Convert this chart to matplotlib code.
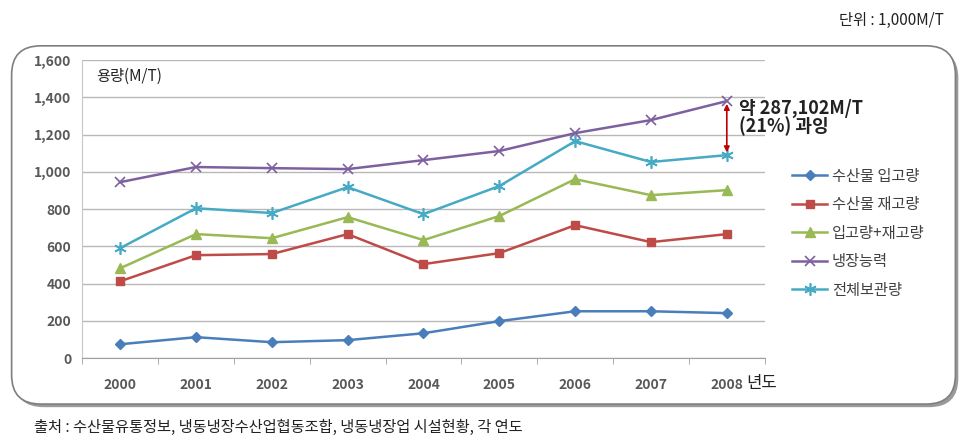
import matplotlib.pyplot as plt
from matplotlib.patches import FancyBboxPatch

plt.rcParams['font.family'] = ['Noto Sans CJK KR', 'DejaVu Sans']

years = ['2000', '2001', '2002', '2003', '2004', '2005', '2006', '2007', '2008']
intake = [75, 113, 86, 97, 134, 199, 252, 252, 242]
stock = [413, 553, 559, 666, 505, 564, 714, 623, 666]
intake_stock = [483, 666, 644, 757, 634, 763, 961, 875, 902]
capacity = [945, 1026, 1020, 1015, 1063, 1112, 1208, 1278, 1380]
storage = [591, 805, 779, 918, 773, 924, 1165, 1053, 1090]

series = [
    ('수산물 입고량', intake, '#4a7ebb', 'D', 5.5),
    ('수산물 재고량', stock, '#be4b48', 's', 5.5),
    ('입고량+재고량', intake_stock, '#98b954', '^', 6.5),
    ('냉장능력', capacity, '#7d60a0', 'x', 7),
    ('전체보관량', storage, '#46aac5', (6, 2, 0), 9),
]

fig = plt.figure(figsize=(9.68, 4.45), dpi=100)

# rounded frame with shadow
shadow = FancyBboxPatch((0.015, 0.085), 0.975, 0.805, boxstyle='round,pad=0,rounding_size=0.03',
                        transform=fig.transFigure, facecolor='#9a9a9a', edgecolor='none', zorder=0,
                        mutation_aspect=968 / 445)
frame = FancyBboxPatch((0.012, 0.092), 0.975, 0.805, boxstyle='round,pad=0,rounding_size=0.03',
                       transform=fig.transFigure, facecolor='white', edgecolor='#7f7f7f', lw=1.2, zorder=1,
                       mutation_aspect=968 / 445)
fig.patches.extend([shadow, frame])

ax = fig.add_axes([0.085, 0.195, 0.705, 0.67])
ax.set_zorder(2)
ax.patch.set_alpha(0)
x = list(range(len(years)))
for name, vals, color, marker, ms in series:
    ax.plot(x, vals, color=color, lw=1.8, marker=marker, ms=ms, mew=1.2 if marker in ('x', (6, 2, 0)) else 1,
            label=name)

ax.set_xlim(-0.5, 8.5)
ax.set_ylim(0, 1600)
ax.set_yticks(range(0, 1601, 200))
ax.set_yticklabels(['{:,}'.format(v) for v in range(0, 1601, 200)])
ax.set_xticks(x)
ax.set_xticklabels(years)
ax.set_xticks([i - 0.5 for i in range(10)], minor=True)
ax.tick_params(axis='x', which='major', length=0, pad=14)
ax.tick_params(axis='x', which='minor', length=4, color='#a0a0a0')
ax.tick_params(axis='y', length=0, pad=8)
for lab in ax.get_xticklabels() + ax.get_yticklabels():
    lab.set_color('#595959')
    lab.set_fontsize(10)
    lab.set_fontweight('bold')
ax.grid(axis='y', color='#b8b8b8', lw=1)
ax.set_axisbelow(True)
for s in ['top', 'right']:
    ax.spines[s].set_visible(False)
ax.spines['left'].set_color('#c8c8c8')
ax.spines['bottom'].set_color('#a0a0a0')

ax.text(0.02, 0.975, '용량(M/T)', transform=ax.transAxes, fontsize=11, va='top', color='#222222')
ax.annotate('년도', xy=(8.25, 0), xycoords=('data', 'axes fraction'), xytext=(0, -18),
            textcoords='offset points', fontsize=12, va='center', color='#222222')

# gap between capacity and storage in 2008
ax.annotate('', xy=(8, capacity[-1]), xytext=(8, storage[-1]),
            arrowprops=dict(arrowstyle='<|-|>', color='#c00000', lw=1.2, mutation_scale=8))
ax.text(8.16, 1290, '약 287,102M/T\n(21%) 과잉', fontsize=13, fontweight='bold', va='center',
        color='#222222', linespacing=0.9, clip_on=False)

leg = ax.legend(loc='upper left', bbox_to_anchor=(1.02, 0.685), frameon=False, fontsize=11,
                handlelength=2.3, labelspacing=0.75, handletextpad=0.3)
for t in leg.get_texts():
    t.set_color('#404040')

fig.text(0.975, 0.955, '단위 : 1,000M/T', ha='right', va='center', fontsize=11, color='#222222')
fig.text(0.035, 0.04, '출처 : 수산물유통정보, 냉동냉장수산업협동조합, 냉동냉장업 시설현황, 각 연도',
         ha='left', va='center', fontsize=11, color='#222222')

fig.savefig('out.png', dpi=100)
